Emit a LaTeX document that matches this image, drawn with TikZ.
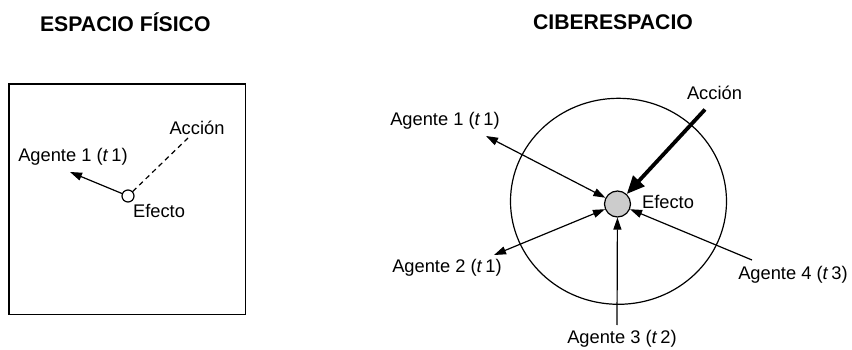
\documentclass[tikz,border=0pt]{standalone}
\usepackage{fontspec}
\setmainfont{Liberation Sans}
\usetikzlibrary{arrows.meta}
\tikzset{
  lbl/.style={inner sep=0pt, font=\fontsize{18.3}{21}\selectfont},
  ttl/.style={inner sep=0pt, font=\fontsize{21.2}{24}\selectfont\bfseries},
  thin line/.style={line width=1.2pt},
  tip/.style={-{Triangle[length=12pt,width=8pt]}},
  dtip/.style={{Triangle[length=12pt,width=8pt]}-{Triangle[length=12pt,width=8pt]}},
  bigtip/.style={line width=3.8pt,-{Triangle[length=18pt,width=15pt]}},
}
\newcommand{\ag}[2]{Agente #1 (\textit{t}\,#2)}
\begin{document}
\begin{tikzpicture}[x=1pt,y=-1pt]
\useasboundingbox (0,0) rectangle (852,350);

% titles
\node[ttl] (t1) at (125.3,22.7) {ESPACIO FÍSICO};
\node[ttl] (t2) at (613,22.7) {CIBERESPACIO};

% physical space
\draw[line width=1.7pt] (9,84) rectangle (245.5,314.5);
\node[draw, thin line, fill=white, circle, minimum size=12pt, inner sep=0pt] (pe) at (128,196) {};
\coordinate (pa1) at (70,172);
\coordinate (pac) at (188,138);
\draw[thin line, tip] (pe) -- (pa1);
\draw[thin line, dashed, dash pattern=on 5pt off 4pt] (pe) -- (pac);
\node[lbl] (lpa1) at (73,157) {\ag{1}{1}};
\node[lbl] (lpac) at (197,128) {Acción};
\node[lbl] (lpe) at (159,211) {Efecto};

% cyberspace
\draw[thin line] (618.5,201.3) ellipse [x radius=108, y radius=103];
\node[draw, thin line, fill=black!20, circle, minimum size=26pt, inner sep=0pt] (ce) at (617.5,204) {};
\coordinate (c1) at (486,136);
\coordinate (c2) at (494,255);
\coordinate (c3) at (617,325);
\coordinate (c4) at (752,260);
\coordinate (cac) at (705,109.5);
\draw[thin line, dtip] (c1) -- (ce);
\draw[thin line, dtip] (c2) -- (ce);
\draw[thin line, tip] (c3) -- (ce);
\draw[thin line, tip] (c4) -- (ce);
\draw[bigtip] (cac) -- (ce);
\node[lbl] (l1) at (445,121) {\ag{1}{1}};
\node[lbl] (l2) at (447,268) {\ag{2}{1}};
\node[lbl] (l3) at (622,339) {\ag{3}{2}};
\node[lbl] (l4) at (793,275) {\ag{4}{3}};
\node[lbl] (lac) at (714.5,93) {Acción};
\node[lbl] (lce) at (668,202) {Efecto};
\end{tikzpicture}
\end{document}
